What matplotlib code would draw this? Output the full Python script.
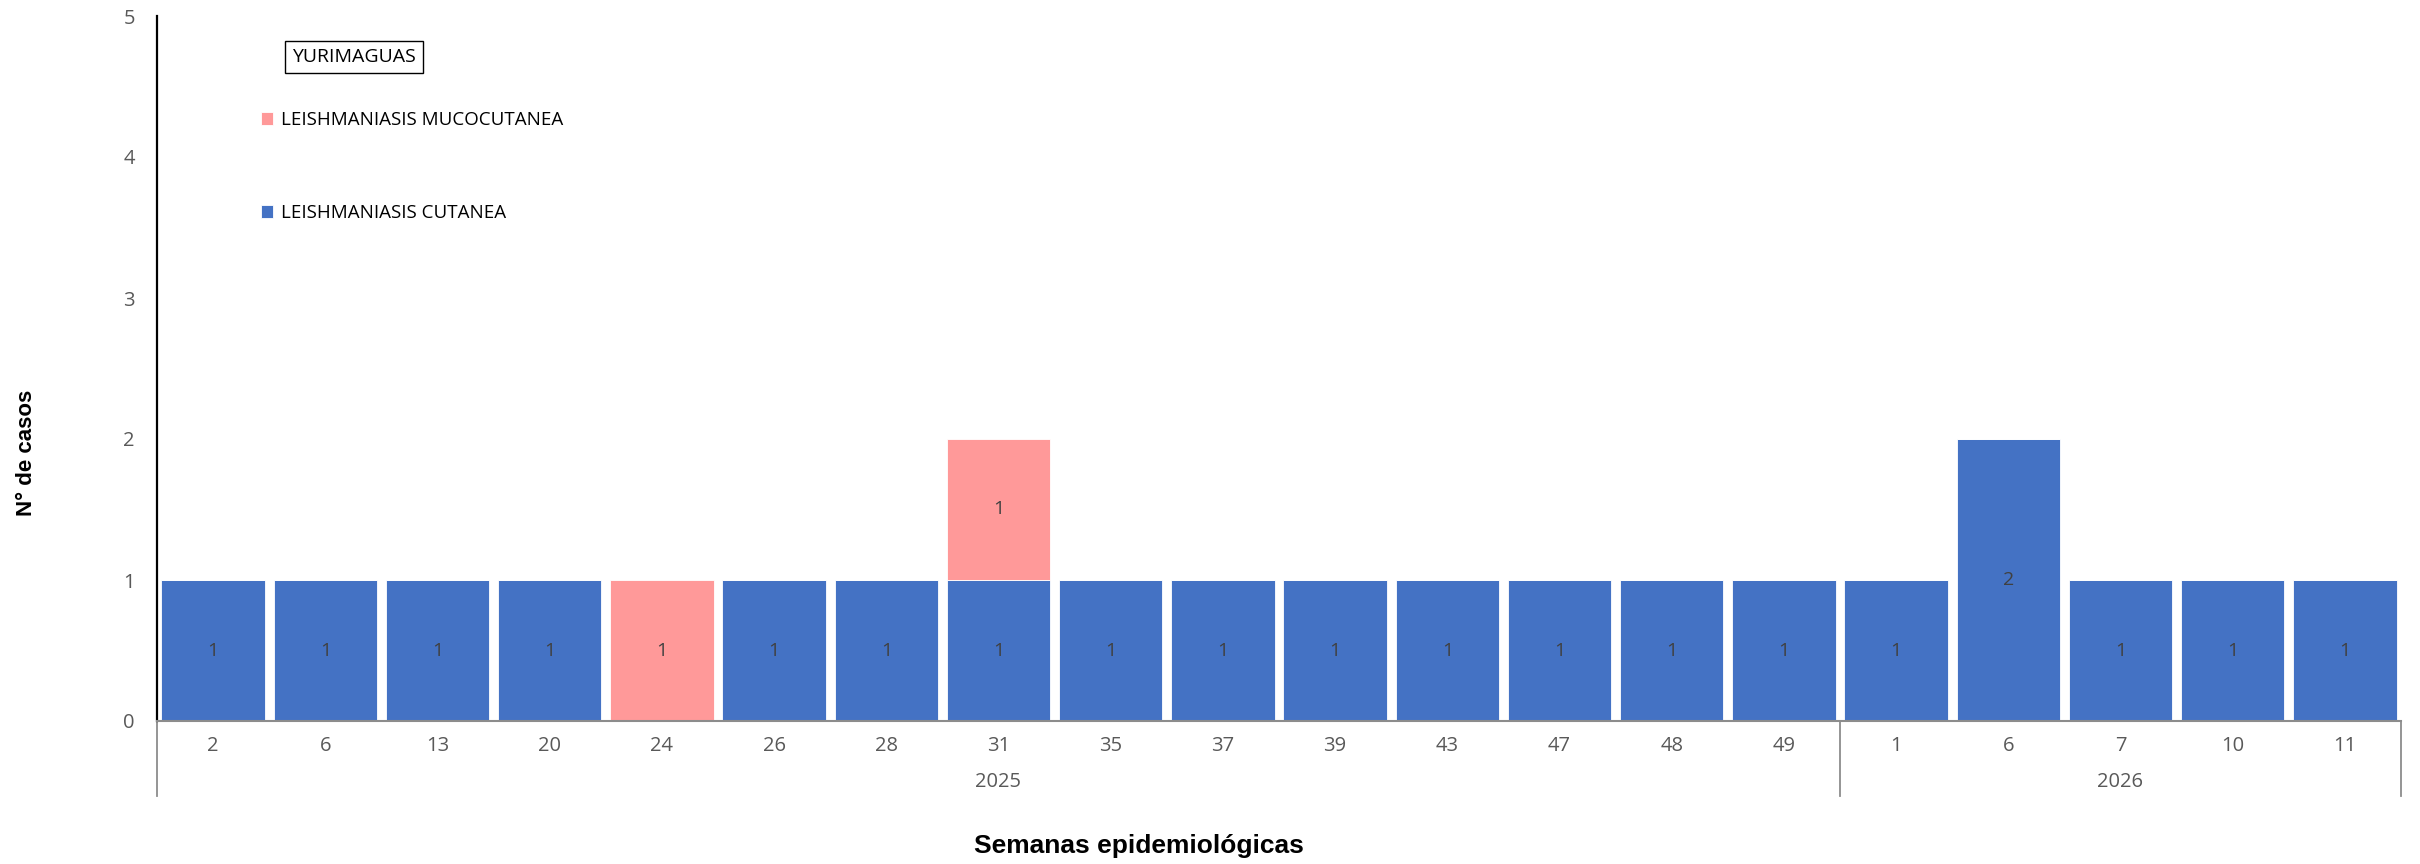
import matplotlib
matplotlib.use("Agg")
import matplotlib.pyplot as plt


# data
weeks = ["2", "6", "13", "20", "24", "26", "28", "31", "35", "37", "39", "43", "47", "48", "49",
         "1", "6", "7", "10", "11"]
years = ["2025", "2026"]
year_sizes = [15, 5]
cutanea = [1, 1, 1, 1, 0, 1, 1, 1, 1, 1, 1, 1, 1, 1, 1, 1, 2, 1, 1, 1]
mucocutanea = [0, 0, 0, 0, 1, 0, 0, 1, 0, 0, 0, 0, 0, 0, 0, 0, 0, 0, 0, 0]

blue = "#4472C4"
pink = "#FF9999"
gray = "#595959"
line_gray = "#8C8C8C"

plt.rcParams["font.family"] = ["Open Sans", "DejaVu Sans"]

fig = plt.figure(figsize=(24.2, 8.64), dpi=100)
ax = fig.add_axes([157 / 2420, 1 - 721 / 864, (2401 - 157) / 2420, (721 - 16) / 864])

x = list(range(len(weeks)))
b1 = ax.bar(x, cutanea, 0.92, color=blue, edgecolor="white", linewidth=0.6,
            label="LEISHMANIASIS CUTANEA")
b2 = ax.bar(x, mucocutanea, 0.92, bottom=cutanea, color=pink, edgecolor="white", linewidth=0.6,
            label="LEISHMANIASIS MUCOCUTANEA")

ax.bar_label(b1, labels=[str(v) if v else "" for v in cutanea], label_type="center",
             color="#404040", fontsize=14)
ax.bar_label(b2, labels=[str(v) if v else "" for v in mucocutanea], label_type="center",
             color="#404040", fontsize=14)

# axes
ax.set_xlim(-0.5, len(weeks) - 0.5)
ax.set_ylim(0, 5)
ax.set_yticks(range(6))
ax.set_xticks(x, weeks)
ax.tick_params(axis="y", length=0, pad=16, labelcolor=gray, labelsize=14.5)
ax.tick_params(axis="x", length=0, pad=11, labelcolor=gray, labelsize=14.5)
for side in ["top", "right"]:
    ax.spines[side].set_visible(False)
ax.spines["left"].set_color("black")
ax.spines["left"].set_linewidth(1.6)
ax.spines["bottom"].set_color(line_gray)
ax.spines["bottom"].set_linewidth(1.5)

# year groups under the weeks
trans = ax.get_xaxis_transform()
bounds = [-0.5]
for size in year_sizes:
    bounds.append(bounds[-1] + size)
for b in bounds:
    ax.plot([b, b], [0, -0.106], transform=trans, color=line_gray, linewidth=1.3, clip_on=False)
for i, year in enumerate(years):
    ax.text((bounds[i] + bounds[i + 1]) / 2, -0.086, year, transform=trans, ha="center",
            va="center", color=gray, fontsize=14.5)

# legend and title
ax.legend(handles=[b2, b1], loc="upper left", bbox_to_anchor=(261 / 2420, 1 - 111 / 864),
          bbox_transform=fig.transFigure, frameon=False, handlelength=0.65, handleheight=0.65,
          handletextpad=0.4, labelspacing=4.0, borderpad=0, borderaxespad=0, fontsize=13.5)
fig.text(354 / 2420, 1 - 57 / 864, "YURIMAGUAS", ha="center", va="center", fontsize=14,
         color="black", bbox=dict(boxstyle="square,pad=0.35", fc="white", ec="black", lw=1))

fig.text(1139 / 2420, 1 - 846 / 864, "Semanas epidemiológicas", ha="center", va="center",
         family="Liberation Sans", fontweight="bold", fontsize=19)
fig.text(27 / 2420, 1 - 453 / 864, "N° de casos", ha="center", va="center", rotation=90,
         family="Liberation Sans", fontweight="bold", fontsize=16)

fig.savefig("out.png", dpi=100)
